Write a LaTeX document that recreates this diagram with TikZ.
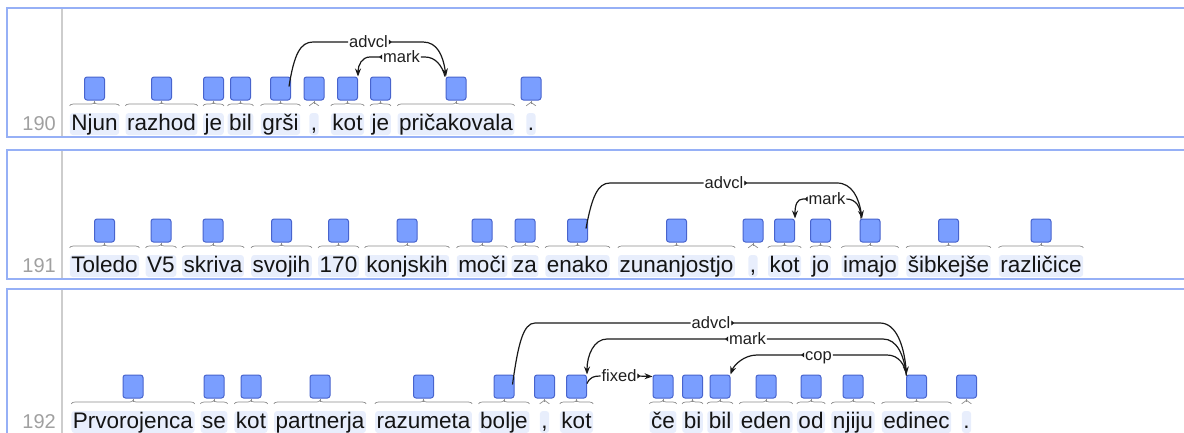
\documentclass[tikz,border=0pt]{standalone}
\usepackage{fontspec}
\setmainfont{Liberation Sans}
\usetikzlibrary{calc,arrows.meta,decorations.pathreplacing}
\definecolor{wordbg}{RGB}{232,238,252}
\definecolor{boxfill}{RGB}{122,158,255}
\definecolor{boxline}{RGB}{72,100,205}
\definecolor{panelc}{RGB}{150,176,246}
\definecolor{sepc}{RGB}{205,205,205}
\definecolor{numc}{RGB}{160,160,160}
\definecolor{bracec}{RGB}{140,140,140}
\tikzset{
  wordtxt/.style={font=\fontsize{22.5}{26}\selectfont, fill=wordbg, rounded corners=3pt,
    inner xsep=1.5pt, inner ysep=0pt, text height=17pt, text depth=5pt, anchor=base, text=black!92},
  tokbox/.style={draw=boxline, fill=boxfill, line width=1pt, rounded corners=2.5pt,
    minimum width=20pt, minimum height=23pt, inner sep=0pt},
  brc/.style={draw=bracec, line width=0.7pt, decorate, decoration={brace, amplitude=3.5pt}},
  stem/.style={draw=bracec, line width=0.7pt},
  arcl/.style={font=\fontsize{16.5}{18}\selectfont, inner sep=0.8pt, text height=12pt, text depth=1pt, text=black!88},
  arcline/.style={line width=1.2pt, draw=black!90},
  markedhead/.style={arcline, {Triangle[reversed,length=3pt,width=5pt]}-{Stealth[length=8pt,width=6pt]}},
  panel/.style={draw=panelc, line width=1.6pt},
  sepline/.style={draw=sepc, line width=2pt},
  rownum/.style={font=\fontsize{20}{24}\selectfont, text=numc, anchor=base east, inner sep=0pt}
}
\newcommand\tok[5]{%
  \node[wordtxt] (w#1) at (#2,#3) {#5};
  \node[tokbox] (b#1) at (#2,#4+11.5) {};
  \draw[brc] ([yshift=7pt]w#1.north west) -- ([yshift=7pt]w#1.north east);
  \draw[stem] (b#1.south) -- ++(0,3);
}
\begin{document}
\begin{tikzpicture}[x=1pt,y=-1pt]
\useasboundingbox (0,0) rectangle (1184,432);
\clip (0,0) rectangle (1184,432);
% panels
\draw[panel] (7,8) rectangle (1200,137);
\draw[panel] (7,150) rectangle (1200,279);
\draw[panel] (7,289) rectangle (1200,460);
\draw[sepline] (62,9) -- (62,136);
\draw[sepline] (62,151) -- (62,278);
\draw[sepline] (62,290) -- (62,440);
\node[rownum] (n190) at (56,130) {190};
\node[rownum] (n191) at (56,272) {191};
\node[rownum] (n192) at (56,428) {192};
% ---------- row 190
\tok{a1}{94.5}{130}{77}{Njun}
\tok{a2}{161.5}{130}{77}{razhod}
\tok{a3}{213.5}{130}{77}{je}
\tok{a4}{240.5}{130}{77}{bil}
\tok{a5}{280.5}{130}{77}{grši}
\tok{a6}{314}{130}{77}{,}
\tok{a7}{347.5}{130}{77}{kot}
\tok{a8}{380.5}{130}{77}{je}
\tok{a9}{456}{130}{77}{pričakovala}
\tok{a10}{531}{130}{77}{.}
\node[arcl] (la1) at (368.5,42) {advcl};
\draw[arcline] ($(ba5.east)+(-2,-2)$) .. controls (294,55) and (300,42) .. (313,42) -- (la1.west);
\draw[markedhead] (la1.east) -- (423,42) .. controls (437,42) and (443,55) .. ($(ba9.north)+(-10,0)$);
\node[arcl] (la2) at (401.5,57) {mark};
\draw[markedhead] (la2.west) -- (370,57) .. controls (362,57) and (358,65) .. (ba7.north east);
\draw[arcline] (la2.east) -- (425,57) .. controls (435,57) and (442,65) .. ($(ba9.north)+(-11,0)$);
% ---------- row 191
\tok{b1}{104.5}{272}{219}{Toledo}
\tok{b2}{161}{272}{219}{V5}
\tok{b3}{213}{272}{219}{skriva}
\tok{b4}{281.5}{272}{219}{svojih}
\tok{b5}{338.5}{272}{219}{170}
\tok{b6}{407}{272}{219}{konjskih}
\tok{b7}{482}{272}{219}{moči}
\tok{b8}{525}{272}{219}{za}
\tok{b9}{577.5}{272}{219}{enako}
\tok{b10}{676.5}{272}{219}{zunanjostjo}
\tok{b11}{753}{272}{219}{,}
\tok{b12}{784.5}{272}{219}{kot}
\tok{b13}{820.5}{272}{219}{jo}
\tok{b14}{870}{272}{219}{imajo}
\tok{b15}{948.5}{272}{219}{šibkejše}
\tok{b16}{1041}{272}{219}{različice}
\node[arcl] (lb1) at (724,183) {advcl};
\draw[arcline] ($(bb9.east)+(-2,-2)$) .. controls (592,196) and (598,183) .. (610,183) -- (lb1.west);
\draw[markedhead] (lb1.east) -- (837,183) .. controls (852,183) and (859,198) .. ($(bb14.north)+(-8,0)$);
\node[arcl] (lb2) at (827,199) {mark};
\draw[markedhead] (lb2.west) -- (803,199) .. controls (797,199) and (795,205) .. (bb12.north east);
\draw[arcline] (lb2.east) .. controls (856,199) and (861,207) .. ($(bb14.north)+(-9,0)$);
% ---------- row 192
\tok{c1}{133}{428}{375}{Prvorojenca}
\tok{c2}{214}{428}{375}{se}
\tok{c3}{251}{428}{375}{kot}
\tok{c4}{320}{428}{375}{partnerja}
\tok{c5}{423.5}{428}{375}{razumeta}
\tok{c6}{504}{428}{375}{bolje}
\tok{c7}{544.5}{428}{375}{,}
\tok{c8}{576.5}{428}{375}{kot}
\tok{c9}{663}{428}{375}{če}
\tok{c10}{692.5}{428}{375}{bi}
\tok{c11}{720}{428}{375}{bil}
\tok{c12}{766}{428}{375}{eden}
\tok{c13}{811}{428}{375}{od}
\tok{c14}{853}{428}{375}{njiju}
\tok{c15}{916.5}{428}{375}{edinec}
\tok{c16}{966.5}{428}{375}{.}
\node[arcl] (lc1) at (711,323) {advcl};
\draw[arcline] ($(bc6.east)+(-2,-2)$) .. controls (518,345) and (523,323) .. (535,323) -- (lc1.west);
\draw[markedhead] (lc1.east) -- (880,323) .. controls (896,323) and (904,345) .. ($(bc15.north)+(-10,0)$);
\node[arcl] (lc2) at (747.5,339) {mark};
\draw[markedhead] (lc2.west) -- (607,339) .. controls (594,339) and (587,355) .. (bc8.north east);
\draw[arcline] (lc2.east) -- (883,339) .. controls (897,339) and (904,355) .. ($(bc15.north)+(-10,1)$);
\node[arcl] (lc3) at (818.5,355) {cop};
\draw[markedhead] (lc3.west) -- (757,355) .. controls (744,355) and (734,365) .. (bc11.north east);
\draw[arcline] (lc3.east) -- (887,355) .. controls (899,355) and (905,365) .. ($(bc15.north)+(-10,1)$);
\node[arcl] (lc4) at (619,376) {fixed};
\draw[arcline] ($(bc8.east)+(0,-3)$) .. controls (590,377) and (594,376) .. (lc4.west);
\draw[markedhead] (lc4.east) -- ($(bc9.north west)+(0,2)$);
\end{tikzpicture}
\end{document}
